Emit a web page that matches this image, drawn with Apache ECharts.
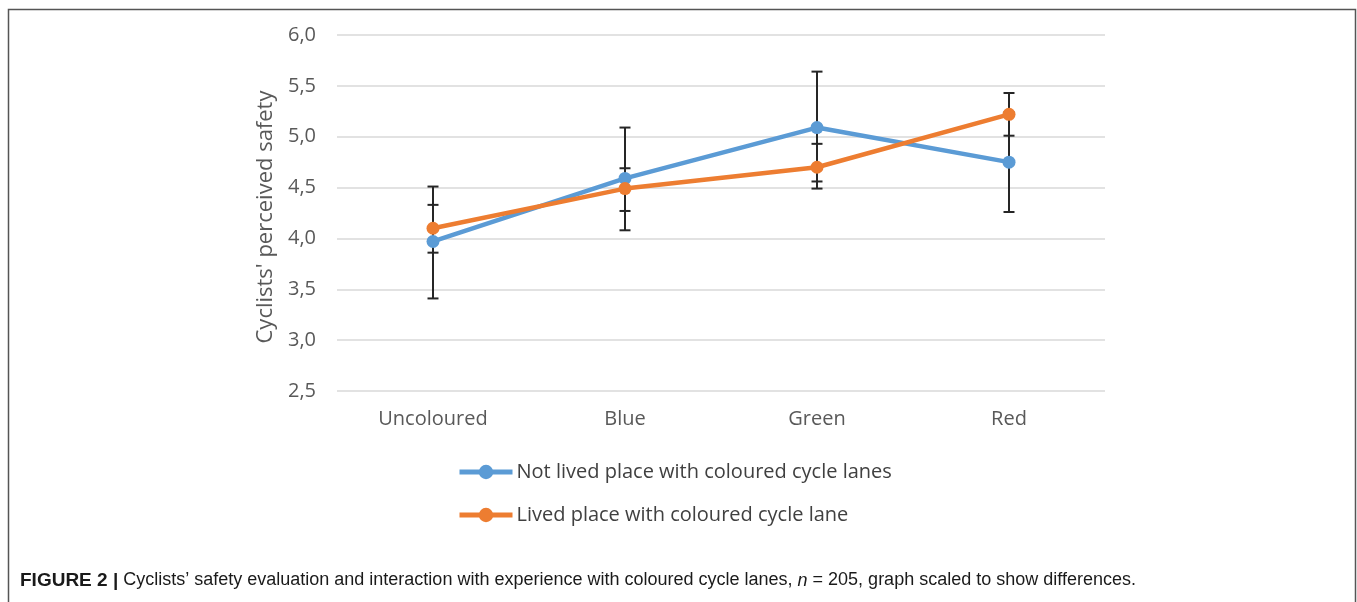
<!DOCTYPE html>
<html>
<head>
<meta charset="utf-8">
<script src="https://cdn.jsdelivr.net/npm/echarts@6/dist/echarts.min.js"></script>
<style>
html,body{margin:0;padding:0;background:#fff;}
#chart{width:1357px;height:602px;}
</style>
</head>
<body>
<div id="chart"></div>
<script>
const categories = ['Uncoloured', 'Blue', 'Green', 'Red'];
const seriesNames = ['Not lived place with coloured cycle lanes', 'Lived place with coloured cycle lane'];
const notLived = [3.97, 4.59, 5.09, 4.75];
const notLivedLow = [3.41, 4.08, 4.56, 4.26];
const notLivedHigh = [4.51, 5.09, 5.64, 5.24];
const lived = [4.10, 4.49, 4.70, 5.22];
const livedLow = [3.86, 4.27, 4.49, 5.01];
const livedHigh = [4.33, 4.69, 4.93, 5.43];
const yTicks = [2.5, 3.0, 3.5, 4.0, 4.5, 5.0, 5.5, 6.0];
const yAxisTitle = 'Cyclists\' perceived safety';
const caption = 'Cyclists\u2019 safety evaluation and interaction with experience with coloured cycle lanes, ';

const chart = echarts.init(document.getElementById('chart'), null, {renderer: 'canvas'});
const uiFont = '"Open Sans", "Noto Sans", sans-serif';
const capFont = '"Liberation Sans", Arial, sans-serif';

function errData(low, high) {
  return categories.map((c, i) => [i, low[i], high[i]]);
}
function errRender(params, api) {
  const x = api.value(0);
  const lo = api.coord([x, api.value(1)]);
  const hi = api.coord([x, api.value(2)]);
  const w = 5.5;
  const st = {stroke: '#262626', lineWidth: 2};
  return {
    type: 'group',
    children: [
      {type: 'line', shape: {x1: lo[0], y1: lo[1], x2: hi[0], y2: hi[1]}, style: st},
      {type: 'line', shape: {x1: lo[0] - w, y1: lo[1], x2: lo[0] + w, y2: lo[1]}, style: st},
      {type: 'line', shape: {x1: hi[0] - w, y1: hi[1], x2: hi[0] + w, y2: hi[1]}, style: st}
    ]
  };
}

const option = {
  animation: false,
  backgroundColor: '#fff',
  grid: {left: 337, right: 252, top: 35, bottom: 211, containLabel: false},
  xAxis: {
    type: 'category',
    data: categories,
    boundaryGap: true,
    axisLine: {show: false},
    axisTick: {show: false},
    axisLabel: {color: '#595959', fontSize: 20, fontFamily: uiFont, margin: 18}
  },
  yAxis: {
    type: 'value',
    min: yTicks[0],
    max: yTicks[yTicks.length - 1],
    interval: 0.5,
    axisLine: {show: false},
    axisTick: {show: false},
    splitLine: {lineStyle: {color: '#d9d9d9', width: 1.5}},
    axisLabel: {
      color: '#595959', fontSize: 20, fontFamily: uiFont, margin: 21,
      formatter: v => v.toFixed(1).replace('.', ',')
    }
  },
  legend: {
    orient: 'vertical',
    left: 457,
    top: 461,
    padding: 0,
    itemWidth: 53,
    itemHeight: 18,
    itemGap: 21,
    data: seriesNames,
    lineStyle: {width: 5},
    textStyle: {color: '#404040', fontSize: 20, fontFamily: uiFont, lineHeight: 22, padding: [0, 0, 0, -1]}
  },
  series: [
    {
      type: 'custom', name: 'errNotLived', z: 1,
      renderItem: errRender, data: errData(notLivedLow, notLivedHigh),
      encode: {x: 0, y: [1, 2]}, silent: true
    },
    {
      type: 'custom', name: 'errLived', z: 1,
      renderItem: errRender, data: errData(livedLow, livedHigh),
      encode: {x: 0, y: [1, 2]}, silent: true
    },
    {
      type: 'line', name: seriesNames[0], data: notLived, z: 3,
      symbol: 'circle', symbolSize: 13,
      itemStyle: {color: '#5B9BD5'},
      lineStyle: {color: '#5B9BD5', width: 4.5}
    },
    {
      type: 'line', name: seriesNames[1], data: lived, z: 4,
      symbol: 'circle', symbolSize: 13,
      itemStyle: {color: '#ED7D31'},
      lineStyle: {color: '#ED7D31', width: 4.5}
    }
  ],
  graphic: [
    {
      type: 'rect', z: 0, silent: true,
      shape: {x: 8.5, y: 9.5, width: 1347, height: 620},
      style: {fill: 'none', stroke: '#555', lineWidth: 1.5}
    },
    {
      type: 'text', silent: true,
      x: 266, y: 217, rotation: Math.PI / 2,
      style: {
        text: yAxisTitle, fontSize: 22, fontFamily: uiFont, fill: '#595959',
        align: 'center', verticalAlign: 'middle'
      }
    },
    {
      type: 'text', left: 20, top: 571, silent: true,
      style: {
        text: '{b|FIGURE 2 |} ' + caption + '{i|n} = 205, graph scaled to show differences.',
        fontFamily: capFont,
        fontSize: 18,
        fill: '#1a1a1a',
        rich: {
          b: {fontWeight: 'bold', fontFamily: capFont, fontSize: 19, fill: '#1a1a1a'},
          i: {fontStyle: 'italic', fontFamily: capFont, fontSize: 18, fill: '#1a1a1a'}
        }
      }
    }
  ]
};
chart.setOption(option);
</script>
</body>
</html>
